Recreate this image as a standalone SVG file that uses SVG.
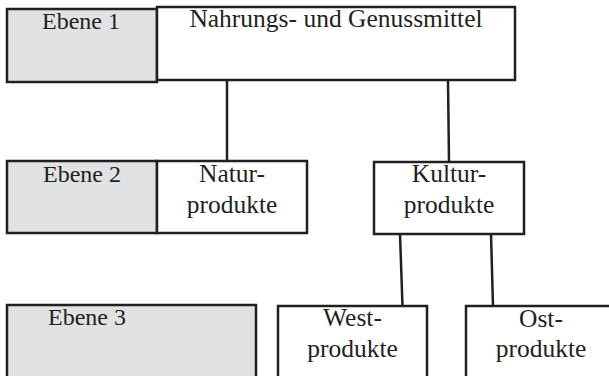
<svg xmlns="http://www.w3.org/2000/svg" width="609" height="376" viewBox="0 0 609 376">
<style>
.box{fill:#ffffff;stroke:#231f20;stroke-width:2.5}
.lvl{fill:#e1e2e4;stroke:#231f20;stroke-width:2.5}
.t{font-family:"Liberation Serif",serif;font-size:24px;fill:#231f20;text-anchor:middle}
.n{font-family:"Liberation Serif",serif;font-size:25.5px;fill:#231f20;text-anchor:middle}
.ts{font-family:"Liberation Serif",serif;font-size:24px;fill:#231f20}
.c{stroke:#231f20;stroke-width:2.5;fill:none}
</style>
<rect width="609" height="376" fill="#ffffff"/>
<g id="connectors">
<line class="c" x1="227" y1="81" x2="227" y2="161"/>
<line class="c" x1="448" y1="80" x2="449" y2="162"/>
<line class="c" x1="400" y1="234" x2="402.5" y2="306"/>
<line class="c" x1="491" y1="234" x2="493" y2="306"/>
</g>
<g id="ebene1">
<rect class="lvl" x="7" y="9" width="150" height="73"/>
<text class="t" x="81" y="29">Ebene 1</text>
</g>
<g id="nahrung">
<rect class="box" x="157" y="7" width="358" height="73"/>
<text class="n" x="336" y="27">Nahrungs- und Genussmittel</text>
</g>
<g id="ebene2">
<rect class="lvl" x="7" y="161" width="150" height="72"/>
<text class="t" x="82" y="182">Ebene 2</text>
</g>
<g id="natur">
<rect class="box" x="157" y="161" width="150" height="72"/>
<text class="n" x="232" y="182">Natur-</text>
<text class="n" x="232" y="213">produkte</text>
</g>
<g id="kultur">
<rect class="box" x="374" y="162" width="150" height="72"/>
<text class="n" x="449" y="182">Kultur-</text>
<text class="n" x="449" y="213">produkte</text>
</g>
<g id="ebene3">
<rect class="lvl" x="7" y="305" width="249" height="90"/>
<text class="ts" x="48" y="325">Ebene 3</text>
</g>
<g id="west">
<rect class="box" x="278" y="306" width="149" height="90"/>
<text class="n" x="352.5" y="326">West-</text>
<text class="n" x="352.5" y="357">produkte</text>
</g>
<g id="ost">
<rect class="box" x="466" y="306" width="150" height="90"/>
<text class="n" x="541" y="327">Ost-</text>
<text class="n" x="541" y="357">produkte</text>
</g>
</svg>
